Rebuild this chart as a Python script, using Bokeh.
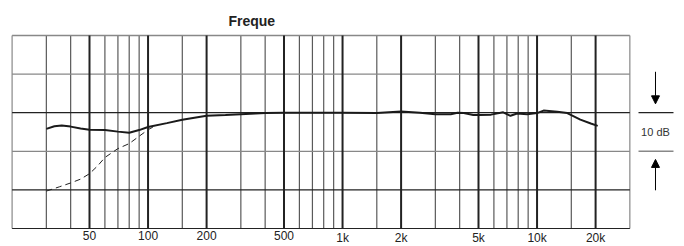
from bokeh.plotting import figure
from bokeh.models import Range1d, Arrow, NormalHead, Label
from bokeh.embed import file_html
from bokeh.resources import INLINE
from bokeh.core.properties import value

# ---- data ----
solid_freq = [30, 33, 36, 40, 45, 50, 60, 70, 80, 90, 100, 125, 150, 200, 250, 300, 400,
              500, 700, 1000, 1500, 2000, 2500, 3000, 3600, 3900, 4200, 4700, 5000, 5800,
              6700, 7300, 7900, 8900, 10000, 10800, 12700, 14300, 16700, 18900, 20500]
solid_db = [-4.2, -3.5, -3.3, -3.6, -4.1, -4.4, -4.5, -4.9, -5.2, -4.5, -3.7, -2.7, -1.8,
            -0.8, -0.6, -0.4, -0.1, 0.0, 0.0, 0.0, -0.1, 0.3, 0.0, -0.4, -0.4, 0.0, -0.1,
            -0.6, -0.6, -0.5, 0.1, -0.8, -0.2, -0.4, -0.1, 0.55, 0.25, -0.1, -1.8, -2.8, -3.4]

dashed_freq = [30, 35, 40, 45, 50, 55, 60, 70, 80, 90, 100, 110]
dashed_db = [-20.3, -19.2, -18.2, -17.2, -15.8, -13.8, -11.6, -9.3, -8.0, -6.1, -4.4, -3.3]

minor_freqs = [30, 40, 60, 70, 80, 90, 150, 300, 400, 600, 700, 800, 900, 1500,
               3000, 4000, 6000, 7000, 8000, 9000, 15000]
major_freqs = [50, 100, 200, 500, 1000, 2000, 5000, 10000, 20000]
major_labels = ["50", "100", "200", "500", "1k", "2k", "5k", "10k", "20k"]
edge_freqs = [20, 30000]
db_dark = [0, -20, -30]
db_light = [20, 10, -10]
db_min, db_max = -30, 20
f_min, f_max = 20, 30000

title_text = "Freque"
scale_text = "10 dB"

# ---- figure ----
p = figure(width=684, height=246, x_axis_type="log",
           x_range=Range1d(10 ** 1.24139, 10 ** 4.7581),
           y_range=Range1d(-34.66, 29.07),
           output_backend="svg", toolbar_location=None,
           x_axis_location=None, y_axis_location=None,
           min_border=0, outline_line_color=None, background_fill_color="white",
           border_fill_color="white")
p.grid.grid_line_color = None

# grid
p.segment(x0=minor_freqs, x1=minor_freqs, y0=db_min, y1=db_max, line_color="#5a5a5a", line_width=1.2)
p.segment(x0=edge_freqs, x1=edge_freqs, y0=db_min, y1=db_max, line_color="#888888", line_width=1.2)
p.segment(x0=f_min, x1=f_max, y0=db_light, y1=db_light, line_color="#888888", line_width=1.3)
p.segment(x0=f_min, x1=f_max, y0=db_dark, y1=db_dark, line_color="#222222", line_width=1.2)
p.segment(x0=major_freqs, x1=major_freqs, y0=db_min, y1=db_max, line_color="#222222", line_width=2)

# curves
p.line(dashed_freq, dashed_db, line_color="#222222", line_width=1, line_dash="6 4")
p.line(solid_freq, solid_db, line_color="#1a1a1a", line_width=2)

# tick labels
p.text(x=major_freqs, y=-30.52, text=major_labels, text_align="center", text_baseline="top",
       text_font=value("Liberation Sans"), text_font_size="12px", text_color="#222222")

# title
p.add_layout(Label(x=259, y=23.63, text=title_text, text_font="Liberation Sans",
                   text_font_style="bold", text_font_size="14px", text_baseline="alphabetic",
                   text_color="#222222"))

# 10 dB scale marker
ax = 40640
p.segment(x0=33240, x1=50290, y0=[0], y1=[0], line_color="#222222", line_width=1.2)
p.segment(x0=33240, x1=50290, y0=[-10], y1=[-10], line_color="#888888", line_width=1.5)
p.add_layout(Arrow(end=NormalHead(size=8, fill_color="black", line_color="black"),
                   x_start=ax, y_start=10.6, x_end=ax, y_end=2.3, line_width=1, line_color="black"))
p.add_layout(Arrow(end=NormalHead(size=8, fill_color="black", line_color="black"),
                   x_start=ax, y_start=-20.1, x_end=ax, y_end=-12.1, line_width=1, line_color="black"))
p.add_layout(Label(x=ax, y=-5, text=scale_text, text_font="Liberation Sans", text_font_size="11px",
                   text_align="center", text_baseline="middle", text_color="#333333"))

open("out.html", "w").write(file_html(p, INLINE))
